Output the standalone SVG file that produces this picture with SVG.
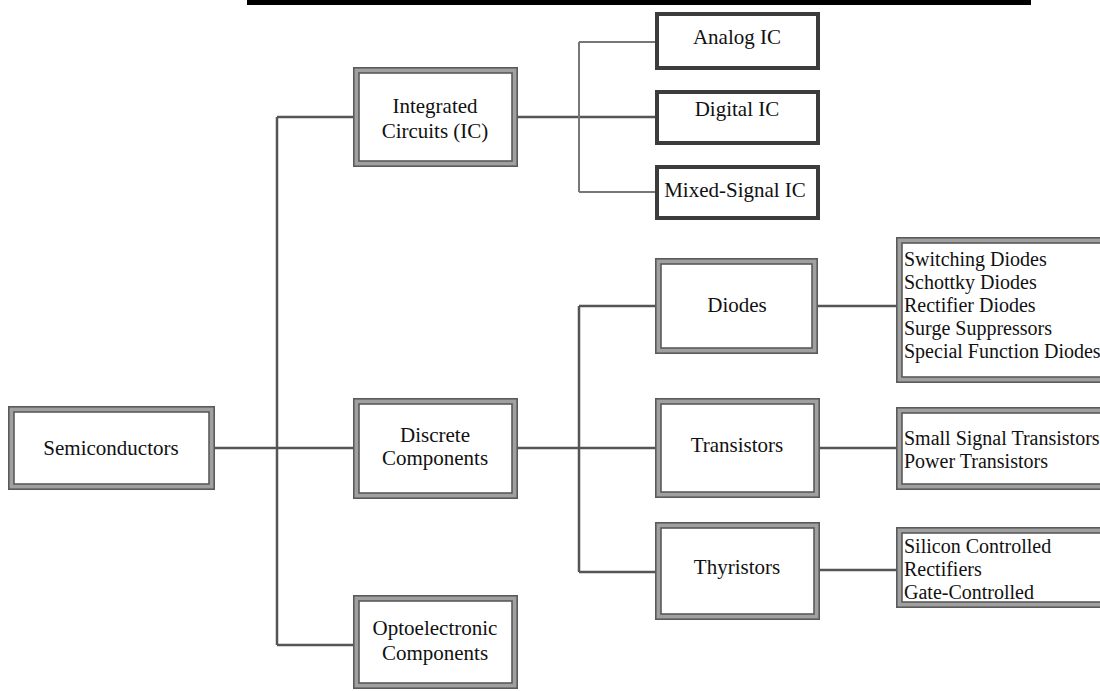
<svg xmlns="http://www.w3.org/2000/svg" width="1100" height="691" viewBox="0 0 1100 691">
<style>
.band{fill:#fff;stroke:#a0a0a0;stroke-width:6}
.edge{fill:none;stroke:#5a5a5a;stroke-width:1.6}
.single{fill:#fff;stroke:#3c3c3c;stroke-width:4}
.t{font-family:"Liberation Serif","DejaVu Serif",serif;font-size:21px;fill:#111;text-anchor:middle}
.l{font-family:"Liberation Serif","DejaVu Serif",serif;font-size:20px;fill:#111}
.c{fill:none;stroke:#555;stroke-width:2.5}
</style>
<rect x="247" y="0" width="784" height="5" fill="#000"/>
<g id="connectors">
<path class="c" d="M215 448H353"/>
<path class="c" d="M277 117V645M277 117H353M277 645H353"/>
<path class="c" d="M518 117H655"/>
<path class="c" d="M579 42V192M579 42H655M579 192H655" style="stroke:#777;stroke-width:2"/>
<path class="c" d="M518 448H655"/>
<path class="c" d="M579 306V572M579 306H655M579 572H655"/>
<path class="c" d="M818 306H896M820 448H896M820 570H896"/>
</g>
<g id="semiconductors">
<rect class="band" x="11" y="409" width="201" height="78"/>
<rect class="edge" x="8.8" y="406.8" width="205.4" height="82.4"/>
<rect class="edge" x="14" y="412" width="195" height="72"/>
<text class="t" x="111" y="455">Semiconductors</text>
</g>
<g id="ic">
<rect class="band" x="356" y="70" width="159" height="94"/>
<rect class="edge" x="353.8" y="67.8" width="163.4" height="98.4"/>
<rect class="edge" x="359" y="73" width="153" height="88"/>
<text class="t" x="435" y="113">Integrated</text>
<text class="t" x="435" y="138">Circuits (IC)</text>
</g>
<g id="discrete">
<rect class="band" x="356" y="401" width="159" height="95"/>
<rect class="edge" x="353.8" y="398.8" width="163.4" height="99.4"/>
<rect class="edge" x="359" y="404" width="153" height="89"/>
<text class="t" x="435" y="442">Discrete</text>
<text class="t" x="435" y="465">Components</text>
</g>
<g id="opto">
<rect class="band" x="356" y="598" width="159" height="88"/>
<rect class="edge" x="353.8" y="595.8" width="163.4" height="92.4"/>
<rect class="edge" x="359" y="601" width="153" height="82"/>
<text class="t" x="435" y="635">Optoelectronic</text>
<text class="t" x="435" y="660">Components</text>
</g>
<g id="analog">
<rect class="single" x="657" y="14" width="161" height="54"/>
<text class="t" x="737" y="44">Analog IC</text>
</g>
<g id="digital">
<rect class="single" x="657" y="92" width="161" height="51"/>
<text class="t" x="737" y="116">Digital IC</text>
</g>
<g id="mixed">
<rect class="single" x="657" y="167" width="161" height="51"/>
<text class="t" x="735" y="197">Mixed-Signal IC</text>
</g>
<g id="diodes">
<rect class="band" x="658" y="261" width="157" height="90"/>
<rect class="edge" x="655.8" y="258.8" width="161.4" height="94.4"/>
<rect class="edge" x="661" y="264" width="151" height="84"/>
<text class="t" x="737" y="312">Diodes</text>
</g>
<g id="transistors">
<rect class="band" x="658" y="401" width="159" height="94"/>
<rect class="edge" x="655.8" y="398.8" width="163.4" height="98.4"/>
<rect class="edge" x="661" y="404" width="153" height="88"/>
<text class="t" x="737" y="452">Transistors</text>
</g>
<g id="thyristors">
<rect class="band" x="658" y="525" width="159" height="92"/>
<rect class="edge" x="655.8" y="522.8" width="163.4" height="96.4"/>
<rect class="edge" x="661" y="528" width="153" height="86"/>
<text class="t" x="737" y="574">Thyristors</text>
</g>
<g id="diode-types">
<rect class="band" x="899" y="240" width="210" height="140"/>
<rect class="edge" x="896.8" y="237.8" width="214" height="144.4"/>
<rect class="edge" x="902" y="243" width="204" height="134"/>
<text class="l" x="904" y="266">Switching Diodes</text>
<text class="l" x="904" y="289">Schottky Diodes</text>
<text class="l" x="904" y="312">Rectifier Diodes</text>
<text class="l" x="904" y="335">Surge Suppressors</text>
<text class="l" x="904" y="358">Special Function Diodes</text>
</g>
<g id="transistor-types">
<rect class="band" x="899" y="410" width="210" height="77"/>
<rect class="edge" x="896.8" y="407.8" width="214" height="81.4"/>
<rect class="edge" x="902" y="413" width="204" height="71"/>
<text class="l" x="904" y="445">Small Signal Transistors</text>
<text class="l" x="904" y="468">Power Transistors</text>
</g>
<g id="thyristor-types">
<rect class="band" x="899" y="530" width="210" height="75"/>
<rect class="edge" x="896.8" y="527.8" width="214" height="79.4"/>
<rect class="edge" x="902" y="533" width="204" height="69"/>
<text class="l" x="904" y="553">Silicon Controlled</text>
<text class="l" x="904" y="576">Rectifiers</text>
<text class="l" x="904" y="599">Gate-Controlled</text>
</g>
</svg>
